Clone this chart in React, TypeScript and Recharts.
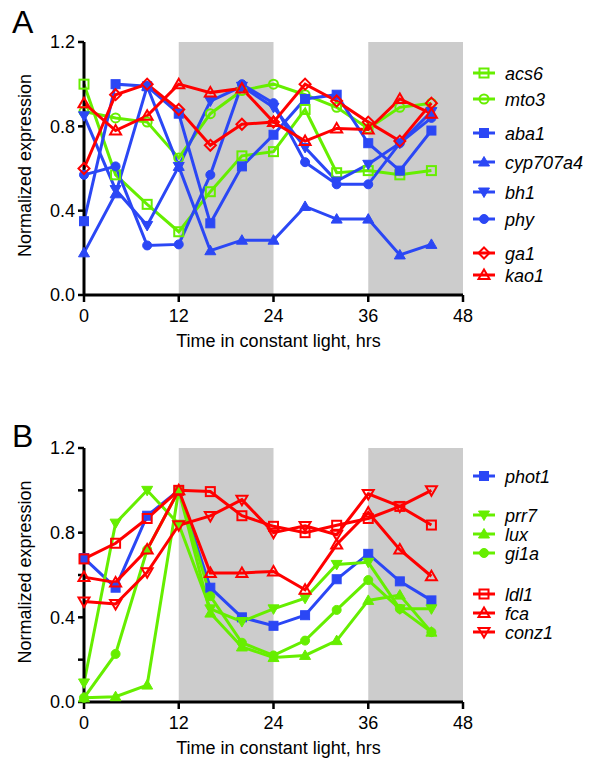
import React from 'react';
import {
  LineChart,
  Line,
  XAxis,
  YAxis,
  ReferenceArea,
  Label,
} from 'recharts';

const FONT = '"Liberation Sans", Arial, sans-serif';
const GREEN = '#66ee00';
const BLUE = '#2b47f5';
const RED = '#ff0000';

const hours = [0, 4, 8, 12, 16, 20, 24, 28, 32, 36, 40, 44];
const xTicks = [0, 12, 24, 36, 48];
const darkPeriods = [
  [12, 24],
  [36, 48],
];

// panel A
const acs6 = [1.0, 0.57, 0.43, 0.3, 0.49, 0.66, 0.68, 0.88, 0.58, 0.59, 0.57, 0.59];
const mto3 = [0.87, 0.84, 0.82, 0.65, 0.86, 0.97, 1.0, 0.95, 0.89, 0.79, 0.89, 0.91];
const aba1 = [0.35, 1.0, 0.99, 0.86, 0.34, 0.61, 0.76, 0.93, 0.95, 0.72, 0.59, 0.78];
const cyp707a4 = [0.2, 0.48, 0.99, 0.61, 0.21, 0.26, 0.26, 0.42, 0.36, 0.36, 0.19, 0.24];
const bh1 = [0.85, 0.5, 0.33, 0.61, 0.92, 0.99, 0.89, 0.7, 0.54, 0.62, 0.72, 0.87];
const phy = [0.57, 0.61, 0.235, 0.24, 0.57, 1.0, 0.91, 0.63, 0.525, 0.525, 0.72, 0.84];
const ga1 = [0.6, 0.95, 1.0, 0.88, 0.71, 0.81, 0.82, 1.0, 0.92, 0.82, 0.73, 0.91];
const kao1 = [0.91, 0.78, 0.85, 1.0, 0.96, 0.98, 0.82, 0.73, 0.79, 0.785, 0.93, 0.86];

// panel B
const phot1 = [0.68, 0.54, 0.88, 1.0, 0.54, 0.4, 0.36, 0.41, 0.58, 0.7, 0.57, 0.48];
const prr7 = [0.09, 0.845, 1.0, 0.84, 0.44, 0.38, 0.44, 0.49, 0.65, 0.66, 0.44, 0.44];
const lux = [0.02, 0.025, 0.08, 1.0, 0.42, 0.26, 0.21, 0.22, 0.29, 0.48, 0.505, 0.33];
const gi1a = [0.02, 0.227, 0.72, 1.0, 0.5, 0.28, 0.22, 0.29, 0.435, 0.576, 0.44, 0.33];
const ldl1 = [0.676, 0.75, 0.867, 1.0, 0.994, 0.88, 0.83, 0.8, 0.835, 0.867, 0.924, 0.836];
const fca = [0.59, 0.565, 0.72, 1.0, 0.61, 0.61, 0.617, 0.53, 0.744, 0.895, 0.72, 0.594];
const conz1 = [0.475, 0.463, 0.613, 0.835, 0.879, 0.956, 0.8, 0.832, 0.79, 0.983, 0.924, 1.0];

type Shape = 'square' | 'circle' | 'up' | 'down' | 'diamond';
type Series = { key: string; values: number[]; color: string; shape: Shape; filled: boolean; legendY: number };

const seriesA: Series[] = [
  { key: 'acs6', values: acs6, color: GREEN, shape: 'square', filled: false, legendY: 73 },
  { key: 'mto3', values: mto3, color: GREEN, shape: 'circle', filled: false, legendY: 99 },
  { key: 'aba1', values: aba1, color: BLUE, shape: 'square', filled: true, legendY: 133 },
  { key: 'cyp707a4', values: cyp707a4, color: BLUE, shape: 'up', filled: true, legendY: 162 },
  { key: 'bh1', values: bh1, color: BLUE, shape: 'down', filled: true, legendY: 192 },
  { key: 'phy', values: phy, color: BLUE, shape: 'circle', filled: true, legendY: 219 },
  { key: 'ga1', values: ga1, color: RED, shape: 'diamond', filled: false, legendY: 253 },
  { key: 'kao1', values: kao1, color: RED, shape: 'up', filled: false, legendY: 275 },
];

const seriesB: Series[] = [
  { key: 'phot1', values: phot1, color: BLUE, shape: 'square', filled: true, legendY: 476 },
  { key: 'prr7', values: prr7, color: GREEN, shape: 'down', filled: true, legendY: 515 },
  { key: 'lux', values: lux, color: GREEN, shape: 'up', filled: true, legendY: 534 },
  { key: 'gi1a', values: gi1a, color: GREEN, shape: 'circle', filled: true, legendY: 553 },
  { key: 'ldl1', values: ldl1, color: RED, shape: 'square', filled: false, legendY: 594 },
  { key: 'fca', values: fca, color: RED, shape: 'up', filled: false, legendY: 613 },
  { key: 'conz1', values: conz1, color: RED, shape: 'down', filled: false, legendY: 632 },
];

function Marker({ cx, cy, shape, filled, color }: { cx: number; cy: number; shape: Shape; filled: boolean; color: string }) {
  const common = {
    fill: filled ? color : 'none',
    stroke: color,
    strokeWidth: filled ? 1 : 2,
  };
  const s = 4.5;
  if (shape === 'square') return <rect x={cx - s} y={cy - s} width={s * 2} height={s * 2} {...common} />;
  if (shape === 'circle') return <circle cx={cx} cy={cy} r={s} {...common} />;
  if (shape === 'up')
    return <polygon points={`${cx},${cy - 5.5} ${cx + 5.5},${cy + 4} ${cx - 5.5},${cy + 4}`} {...common} />;
  if (shape === 'down')
    return <polygon points={`${cx},${cy + 5.5} ${cx + 5.5},${cy - 4} ${cx - 5.5},${cy - 4}`} {...common} />;
  return <polygon points={`${cx},${cy - 5.5} ${cx + 5.5},${cy} ${cx},${cy + 5.5} ${cx - 5.5},${cy}`} {...common} />;
}

const makeRows = (list: Series[]) =>
  hours.map((t, i) => {
    const row: Record<string, number> = { t };
    list.forEach((s) => (row[s.key] = s.values[i]));
    return row;
  });

const rowsA = makeRows(seriesA);
const rowsB = makeRows(seriesB);

const tickStyle = { fill: '#000', fontSize: 18, fontFamily: FONT };

function Panel({ rows, series, top, bottom, yTicks }: { rows: any[]; series: Series[]; top: number; bottom: number; yTicks: number[] }) {
  return (
    <LineChart width={600} height={389} data={rows} margin={{ top, right: 137, left: 0, bottom }}>
      {darkPeriods.map(([a, b]) => (
        <ReferenceArea key={a} x1={a} x2={b} y1={0} y2={1.2} fill="#cccccc" fillOpacity={1} stroke="none" ifOverflow="visible" />
      ))}
      <XAxis
        dataKey="t"
        type="number"
        domain={[0, 48]}
        ticks={xTicks}
        height={60}
        axisLine={{ stroke: '#000', strokeWidth: 3 }}
        tickLine={{ stroke: '#000', strokeWidth: 2.5 }}
        tickSize={7}
        tickMargin={7}
        tick={tickStyle}
      >
        <Label
          content={({ viewBox }: any) => (
            <text x={viewBox.x + viewBox.width / 2 + 5} y={viewBox.y + 52} textAnchor="middle" fontSize={18} fontFamily={FONT} fill="#000">
              Time in constant light, hrs
            </text>
          )}
        />
      </XAxis>
      <YAxis
        type="number"
        domain={[0, 1.2]}
        ticks={yTicks}
        width={84}
        axisLine={{ stroke: '#000', strokeWidth: 3 }}
        tickLine={{ stroke: '#000', strokeWidth: 2.5 }}
        tickSize={6}
        tickMargin={3}
        tick={tickStyle}
        tickFormatter={(v: number) => (Math.round(v * 10) % 4 === 0 ? v.toFixed(1) : '')}
      >
        <Label
          content={({ viewBox }: any) => {
            const cy = viewBox.y + viewBox.height / 2 - 3;
            return (
              <text transform="rotate(-90)" x={-cy} y={31} textAnchor="middle" fontSize={18} fontFamily={FONT} fill="#000">
                Normalized expression
              </text>
            );
          }}
        />
      </YAxis>
      {series.map((s) => (
        <Line
          key={s.key}
          dataKey={s.key}
          stroke={s.color}
          strokeWidth={3}
          isAnimationActive={false}
          dot={(p: any) => (
            <Marker key={`${s.key}-${p.index}`} cx={p.cx} cy={p.cy} shape={s.shape} filled={s.filled} color={s.color} />
          )}
          activeDot={false}
        />
      ))}
    </LineChart>
  );
}

function LegendItems({ series }: { series: Series[] }) {
  return (
    <>
      {series.map((s) => (
        <g key={s.key}>
          <line x1={473} x2={495} y1={s.legendY} y2={s.legendY} stroke={s.color} strokeWidth={3} />
          <Marker cx={484} cy={s.legendY} shape={s.shape} filled={s.filled} color={s.color} />
          <text x={505} y={s.legendY + 6.5} fontSize={18} fontStyle="italic" fontFamily={FONT} fill="#000">
            {s.key}
          </text>
        </g>
      ))}
    </>
  );
}

export default function App() {
  return (
    <div style={{ position: 'absolute', left: 0, top: 0, width: 600, height: 778, background: '#fff' }}>
      <div style={{ position: 'absolute', left: 0, top: 0 }}>
        <Panel rows={rowsA} series={seriesA} top={42} bottom={34} yTicks={[0, 0.4, 0.8, 1.2]} />
      </div>
      <div style={{ position: 'absolute', left: 0, top: 389 }}>
        <Panel rows={rowsB} series={seriesB} top={59} bottom={16} yTicks={[0, 0.2, 0.4, 0.6, 0.8, 1.0, 1.2]} />
      </div>
      <svg width={600} height={778} style={{ position: 'absolute', left: 0, top: 0, pointerEvents: 'none' }}>
        <text x={12} y={33} fontSize={32} fontFamily={FONT} fill="#000">A</text>
        <text x={12} y={447} fontSize={32} fontFamily={FONT} fill="#000">B</text>
        <LegendItems series={seriesA} />
        <LegendItems series={seriesB} />
      </svg>
    </div>
  );
}
